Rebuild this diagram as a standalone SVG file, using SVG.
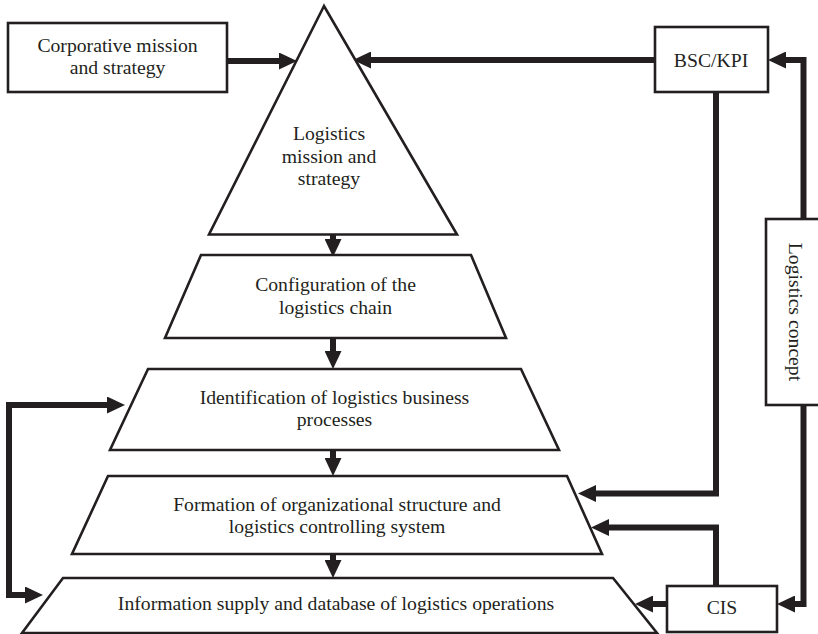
<svg xmlns="http://www.w3.org/2000/svg" width="818" height="634" viewBox="0 0 818 634">
<style>
.shape{fill:#fff;stroke:#231f20;stroke-width:2.6;stroke-linejoin:miter}
.con{fill:none;stroke:#231f20;stroke-width:6;stroke-linejoin:miter;stroke-linecap:butt}
text{font-family:"Liberation Serif","Times New Roman",serif;font-size:19.7px;fill:#231f20;text-anchor:middle}
</style>
<defs>
<marker id="ah" viewBox="0 0 18 17" markerUnits="userSpaceOnUse" markerWidth="18" markerHeight="17" refX="2" refY="8.5" orient="auto-start-reverse">
<path d="M0,0 L18,8.5 L0,17 Z" fill="#231f20"/>
</marker>
</defs>
<rect x="0" y="0" width="818" height="634" fill="#fff"/>
<g id="connectors">
<path class="con" d="M227,61 H281" marker-end="url(#ah)"/>
<path class="con" d="M655,60 H369" marker-end="url(#ah)"/>
<path class="con" d="M333,235 V241" marker-end="url(#ah)"/>
<path class="con" d="M333,338 V353" marker-end="url(#ah)"/>
<path class="con" d="M333,450 V460" marker-end="url(#ah)"/>
<path class="con" d="M333,554 V562" marker-end="url(#ah)"/>
<path class="con" d="M109,405 H9 V595 H27" marker-start="url(#ah)" marker-end="url(#ah)"/>
<path class="con" d="M716,92 V493.5 H594" marker-end="url(#ah)"/>
<path class="con" d="M803.5,219 V60 H784" marker-end="url(#ah)"/>
<path class="con" d="M803.5,405 V604 H793" marker-end="url(#ah)"/>
<path class="con" d="M716,586 V527.5 H607" marker-end="url(#ah)"/>
<path class="con" d="M667,604 H651" marker-end="url(#ah)"/>
</g>
<g id="corporative">
<rect class="shape" x="8" y="23" width="219" height="69"/>
<text x="117.5" y="51.5">Corporative mission</text>
<text x="117.5" y="74">and strategy</text>
</g>
<g id="logistics-mission">
<polygon class="shape" points="324,6 209,234.5 457,234.5"/>
<text x="329" y="140">Logistics</text>
<text x="329" y="162.5">mission and</text>
<text x="329" y="185">strategy</text>
</g>
<g id="configuration">
<polygon class="shape" points="201,255 471,255 506,338 165,338"/>
<text x="335.5" y="291">Configuration of the</text>
<text x="335.5" y="313.5">logistics chain</text>
</g>
<g id="identification">
<polygon class="shape" points="148,369 521,369 559,450 110,450"/>
<text x="334.5" y="404">Identification of logistics business</text>
<text x="334.5" y="426">processes</text>
</g>
<g id="formation">
<polygon class="shape" points="108,476 567,476 602,554 72,554"/>
<text x="337" y="511">Formation of organizational structure and</text>
<text x="337" y="533">logistics controlling system</text>
</g>
<g id="information">
<polygon class="shape" points="63,578 613,578 657,633 22,633"/>
<text x="336" y="610">Information supply and database of logistics operations</text>
</g>
<g id="bsc-kpi">
<rect class="shape" x="655" y="27" width="113" height="65"/>
<text x="711" y="67">BSC/KPI</text>
</g>
<g id="logistics-concept">
<rect class="shape" x="766" y="219" width="60" height="186"/>
<text transform="translate(789,312) rotate(90)" x="0" y="0">Logistics concept</text>
</g>
<g id="cis">
<rect class="shape" x="667" y="586" width="110" height="46"/>
<text x="722" y="614">CIS</text>
</g>
</svg>
